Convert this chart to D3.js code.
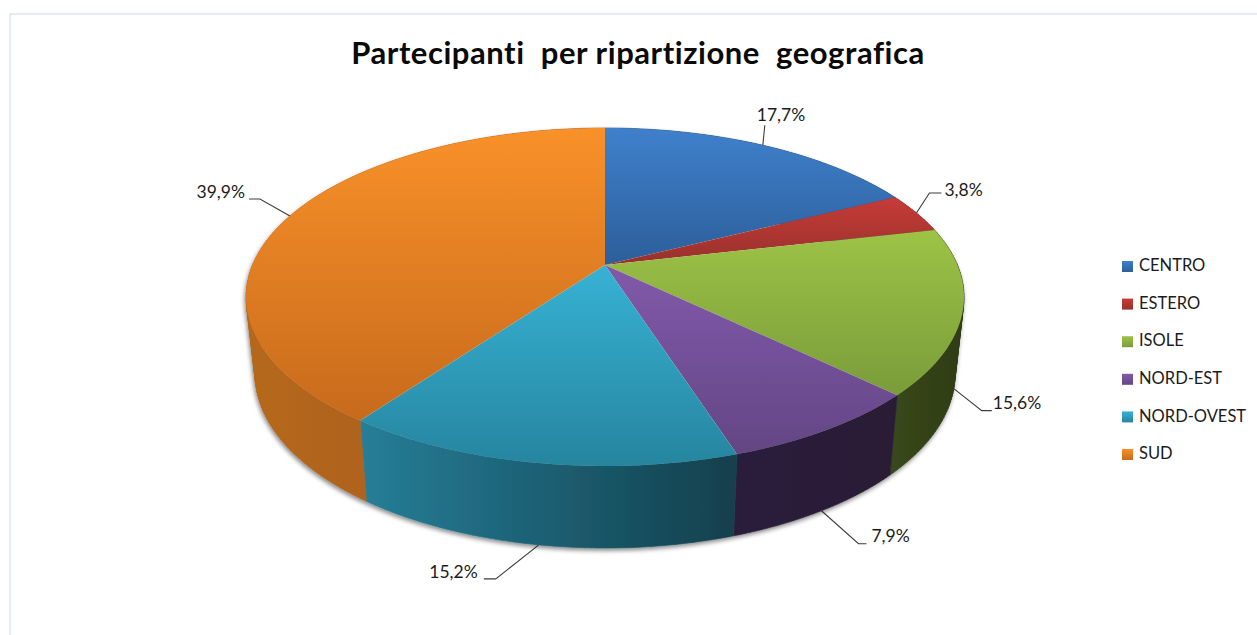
<!DOCTYPE html>
<html>
<head>
<meta charset="utf-8">
<script src="https://cdn.jsdelivr.net/npm/d3@7/dist/d3.min.js"></script>
<style>
html,body{margin:0;padding:0;background:#fff;overflow:hidden}
text{font-family:Lato,"Open Sans",sans-serif;white-space:pre}
</style>
</head>
<body>
<svg id="chart" width="1257" height="635"></svg>
<script>
// ---- data ----
const categories = ["CENTRO","ESTERO","ISOLE","NORD-EST","NORD-OVEST","SUD"];
const values = [17.7,3.8,15.6,7.9,15.2,39.9];
const labels = ["17,7%","3,8%","15,6%","7,9%","15,2%","39,9%"];
const titleText = "Partecipanti  per ripartizione  geografica";

// ---- styles ----
const topLight  = ["#3F80CC","#C63C38","#9DC346","#8259AB","#37B2D4","#F99129"];
const topDark   = ["#2C5E9A","#98302C","#7A9C3A","#634684","#26859F","#C76A1C"];
const sideLight = ["#1F4674","#6E2220","#38481B","#2C1F3C","#267E98","#B5681E"];
const sideDark  = ["#1F4674","#6E2220","#2F3C14","#291B35","#123F4C","#A25917"];
// leader elbow and label placement, as offsets from each slice's anchor
const elbowOffset = [[2,-20],[13,-20],[28,22],[37,33],[-43,34],[-30,-17]];
const elbowRun    = [0,12,10,8,-12,-11];
const textAnchor  = ["start","start","start","start","end","end"];
const textOffset  = [[-8,-9],[3,-1],[1,-6],[5,-6],[-6,-5],[-4,-5]];

// ---- geometry of the tilted pie ----
const W = 1257, H = 635;
const top3d = {x:d3.scaleLinear([-1,1],[246,964]), y:d3.scaleLinear([-1,1],[466,128])};
const bot3d = {x:d3.scaleLinear([-1,1],[255,955]), y:d3.scaleLinear([-1,1],[548,200])};
const apexOffset = 0.19; // perspective shift of pie centre, in unit-circle terms

function rayHit(phi){
  const sx = Math.sin(phi), cy = Math.cos(phi);
  const b = apexOffset*cy, c = apexOffset*apexOffset-1;
  const s = -b + Math.sqrt(b*b-c);
  return {x:s*sx, y:apexOffset+s*cy};
}
function paramOf(phi){
  const p = rayHit(phi);
  let t = Math.atan2(p.x,p.y);
  if (t < -1e-6) t += 2*Math.PI;
  return t;
}
const unit = t => [Math.sin(t),Math.cos(t)];
function samples(t0,t1){ const n = Math.max(2,Math.ceil((t1-t0)/(Math.PI/180))); return d3.range(n+1).map(i=>t0+(t1-t0)*i/n); }
const onE = (e,t)=>{const u=unit(t);return [e.x(u[0]),e.y(u[1])];};
const line = d3.line();

// wall of a slice: a strip of quads, each turned the same way so they add up
function wallPath(t0,t1){
  const ts = samples(t0,t1);
  let out = "";
  for (let k=0;k<ts.length-1;k++){
    let q = [onE(top3d,ts[k]),onE(top3d,ts[k+1]),onE(bot3d,ts[k+1]),onE(bot3d,ts[k])];
    if (d3.polygonArea(q) < 0) q = q.reverse();
    out += line(q)+"Z";
  }
  return out;
}

const pie = d3.pie().sort(null).value(d=>d)(values);
const slices = pie.map((p,i)=>{
  const t0 = paramOf(p.startAngle);
  let t1 = paramOf(p.endAngle);
  if (t1 <= t0) t1 += 2*Math.PI;
  return {i,t0,t1,mid:(p.startAngle+p.endAngle)/2};
});

const svg = d3.select("#chart");
const defs = svg.append("defs");
const shadow = defs.append("filter").attr("id","sh").attr("x","-5%").attr("y","-5%").attr("width","110%").attr("height","115%");
shadow.append("feDropShadow").attr("dx",-1).attr("dy",2.5).attr("stdDeviation",2.2).attr("flood-color","#000").attr("flood-opacity",0.45);

categories.forEach((c,i)=>{
  const g = defs.append("linearGradient").attr("id","top"+i).attr("x1",0).attr("y1",0).attr("x2",0).attr("y2",1);
  g.append("stop").attr("offset",0).attr("stop-color",topLight[i]);
  g.append("stop").attr("offset",1).attr("stop-color",topDark[i]);
  const s = defs.append("linearGradient").attr("id","side"+i).attr("x1",0).attr("y1",0).attr("x2",1).attr("y2",0);
  s.append("stop").attr("offset",0).attr("stop-color",sideLight[i]);
  s.append("stop").attr("offset",1).attr("stop-color",sideDark[i]);
});

// chart frame
svg.append("rect").attr("x",10).attr("y",14).attr("width",W+20).attr("height",H+20)
  .attr("fill","#fff").attr("stroke","#DCE6F3").attr("stroke-width",1.6);

// title
svg.append("text").attr("x",638).attr("y",64).attr("text-anchor","middle")
  .attr("font-size",31).attr("letter-spacing",0.55).attr("font-weight",700).attr("fill","#0a0a0a").text(titleText);

// leaders sit under the pie's edge
const leaderG = svg.append("g");

// side walls
const sideG = svg.append("g").attr("filter","url(#sh)");
sideG.selectAll("path").data(slices).join("path")
  .attr("fill",d=>`url(#side${d.i})`)
  .attr("stroke",d=>`url(#side${d.i})`).attr("stroke-width",0.6)
  .attr("d",d=>wallPath(d.t0,d.t1));

// top faces
const apex = [top3d.x(0),top3d.y(apexOffset)];
svg.append("g").selectAll("path").data(slices).join("path")
  .attr("fill",d=>`url(#top${d.i})`)
  .attr("d",d=>line([apex].concat(samples(d.t0,d.t1).map(t=>onE(top3d,t))))+"Z");

// leaders + labels
slices.forEach(d=>{
  const h = rayHit(d.mid);
  const e = h.y < 0 ? bot3d : top3d;
  const a = [e.x(h.x),e.y(h.y)];
  const el = [a[0]+elbowOffset[d.i][0],a[1]+elbowOffset[d.i][1]];
  const en = [el[0]+elbowRun[d.i],el[1]];
  leaderG.append("path").attr("d",line([a,el,en])).attr("fill","none").attr("stroke","#3c3c3c").attr("stroke-width",1.1);
  svg.append("text").attr("x",en[0]+textOffset[d.i][0]).attr("y",en[1]+textOffset[d.i][1])
    .attr("dominant-baseline","middle")
    .attr("text-anchor",textAnchor[d.i]).attr("font-size",17.5).attr("fill","#1c1c1c").text(labels[d.i]);
});

// legend
const ly = d3.scalePoint().domain(categories).range([266,454]);
const leg = svg.append("g").selectAll("g").data(categories).join("g")
  .attr("transform",d=>`translate(1122,${ly(d)})`);
leg.append("rect").attr("y",-5).attr("width",11).attr("height",11).attr("fill",(d,i)=>`url(#top${i})`);
leg.append("text").attr("x",17).attr("y",1).attr("dominant-baseline","middle").attr("font-size",16.5).attr("fill","#1c1c1c").text(d=>d);
</script>
</body>
</html>
